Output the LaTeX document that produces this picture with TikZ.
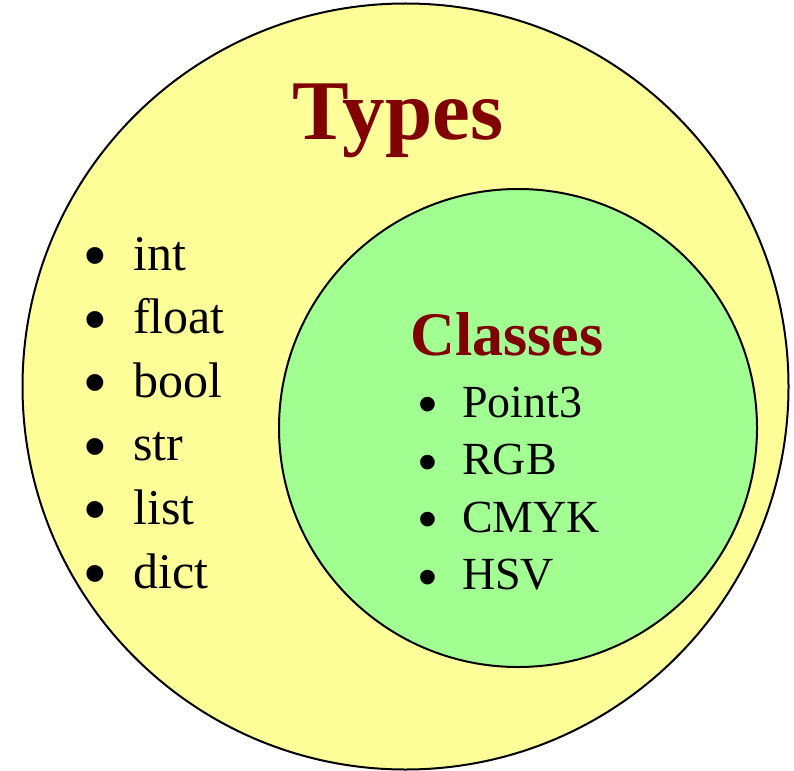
\documentclass[tikz,border=0pt]{standalone}
\usepackage{fontspec}
\setmainfont{Liberation Serif}
\newfontfamily\bulletfont{Liberation Sans}
\definecolor{typefill}{RGB}{255,255,153}
\definecolor{classfill}{RGB}{162,255,146}
\definecolor{heading}{RGB}{128,0,0}
\begin{document}
\begin{tikzpicture}[x=1pt,y=-1pt,
  setcircle/.style={circle,draw=black,line width=2pt,inner sep=0pt},
  title/.style={anchor=base,text=heading,font=\bfseries},
  item/.style={anchor=base west,inner sep=0pt},
  dot/.style={anchor=center,inner sep=0pt,font=\bulletfont}]
\useasboundingbox (0,0) rectangle (794,770);
% outer set: all types
\node[setcircle,fill=typefill,minimum size=766pt] (types) at (405.5,386.5) {};
% inner set: user-defined classes
\node[setcircle,fill=classfill,minimum size=478pt] (classes) at (518,428) {};
\node[title,font=\bfseries\fontsize{85}{90}\selectfont] (tlabel) at (398,140) {Types};
\node[title,font=\bfseries\fontsize{62}{70}\selectfont] (clabel) at (507,355) {Classes};
% built-in types
\foreach \t [count=\i] in {int,float,bool,str,list,dict}{
  \node[dot,font=\bulletfont\fontsize{62}{70}\selectfont] (tb\i) at (95,{262+63.6*(\i-1)}) {•};
  \node[item,font=\fontsize{50}{60}\selectfont] (ti\i) at (133,{270+63.6*(\i-1)}) {\t};
}
% class examples
\foreach \t [count=\i] in {Point3,RGB,CMYK,HSV}{
  \node[dot,font=\bulletfont\fontsize{54}{62}\selectfont] (cb\i) at (428,{410+57.5*(\i-1)}) {•};
  \node[item,font=\fontsize{46}{55}\selectfont] (ci\i) at (462,{417+57.5*(\i-1)}) {\t};
}
\end{tikzpicture}
\end{document}
